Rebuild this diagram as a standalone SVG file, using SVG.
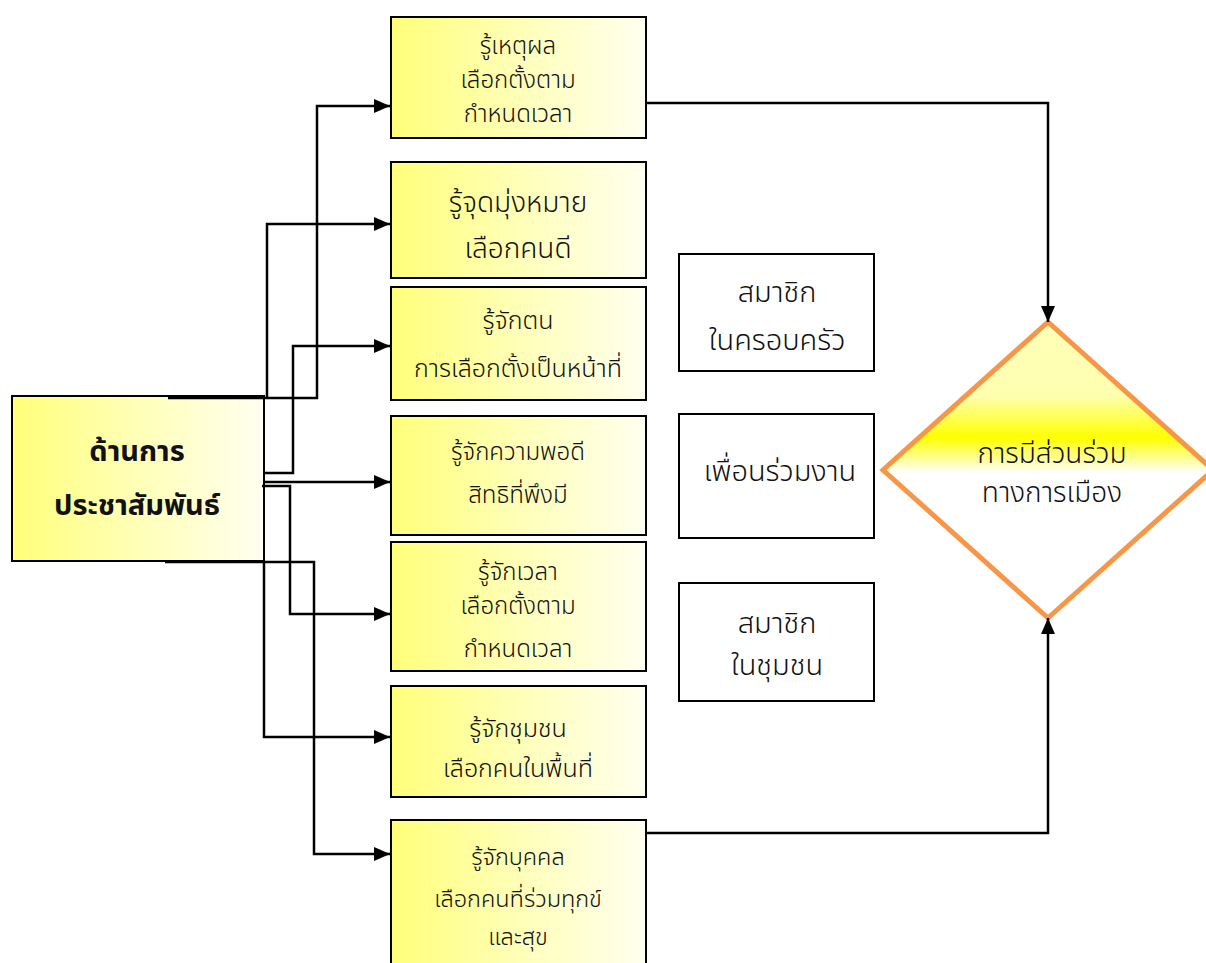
<svg xmlns="http://www.w3.org/2000/svg" width="1206" height="963" viewBox="0 0 1206 963">
<defs>
<linearGradient id="gBox" x1="0" y1="0" x2="1" y2="0">
<stop offset="0" stop-color="#FFFF7A"/>
<stop offset="0.5" stop-color="#FFFFB8"/>
<stop offset="1" stop-color="#FFFFF0"/>
</linearGradient>
<linearGradient id="gDia" x1="0" y1="0" x2="0" y2="1">
<stop offset="0" stop-color="#FFFFB8"/>
<stop offset="0.25" stop-color="#FFFFB0"/>
<stop offset="0.39" stop-color="#FFFF00"/>
<stop offset="0.51" stop-color="#FFFFFF"/>
<stop offset="1" stop-color="#FFFFFF"/>
</linearGradient>
<marker id="arr" viewBox="0 0 16 14" refX="16" refY="7" markerWidth="16" markerHeight="14" markerUnits="userSpaceOnUse" orient="auto">
<path d="M0,0 L16,7 L0,14 Z" fill="#000"/>
</marker>
</defs>
<style>
.box{fill:url(#gBox);stroke:#000;stroke-width:2}
.wbox{fill:#fff;stroke:#000;stroke-width:2}
.dia{fill:url(#gDia);stroke:#F79646;stroke-width:5;stroke-linejoin:miter}
.t{font-family:"Noto Sans Thai","Noto Sans","DejaVu Sans",sans-serif;fill:#111;text-anchor:middle;font-weight:300}
.s23{font-size:23.5px}
.s24{font-size:24px}
.s25{font-size:25px}
.s28{font-size:28px}
.s29{font-size:29px}
.t.b{font-weight:bold}
.ca{fill:none;stroke:#000;stroke-width:2.5;marker-end:url(#arr)}
</style>

<g id="node-main">
<rect class="box" x="12" y="396" width="252" height="165"/>
<text class="t s29 b" x="137" y="461">ด้านการ</text>
<text class="t s29 b" x="137" y="515">ประชาสัมพันธ์</text>
</g>

<g id="node-1">
<rect class="box" x="391" y="17" width="255" height="121"/>
<text class="t s24" x="518" y="54">รู้เหตุผล</text>
<text class="t s24" x="518" y="88">เลือกตั้งตาม</text>
<text class="t s24" x="518" y="122">กำหนดเวลา</text>
</g>

<g id="node-2">
<rect class="box" x="391" y="162" width="255" height="116"/>
<text class="t s28" x="518" y="212">รู้จุดมุ่งหมาย</text>
<text class="t s28" x="518" y="258">เลือกคนดี</text>
</g>

<g id="node-3">
<rect class="box" x="391" y="287" width="255" height="113"/>
<text class="t s25" x="518" y="329">รู้จักตน</text>
<text class="t s25" x="518" y="377">การเลือกตั้งเป็นหน้าที่</text>
</g>

<g id="node-4">
<rect class="box" x="391" y="416" width="255" height="119"/>
<text class="t s24" x="518" y="460">รู้จักความพอดี</text>
<text class="t s24" x="518" y="503">สิทธิที่พึงมี</text>
</g>

<g id="node-5">
<rect class="box" x="391" y="542" width="255" height="129"/>
<text class="t s24" x="518" y="580">รู้จักเวลา</text>
<text class="t s24" x="518" y="614">เลือกตั้งตาม</text>
<text class="t s24" x="518" y="657">กำหนดเวลา</text>
</g>

<g id="node-6">
<rect class="box" x="391" y="686" width="255" height="111"/>
<text class="t s25" x="518" y="737">รู้จักชุมชน</text>
<text class="t s25" x="518" y="777">เลือกคนในพื้นที่</text>
</g>

<g id="node-7">
<rect class="box" x="391" y="820" width="255" height="160"/>
<text class="t s23" x="518" y="865">รู้จักบุคคล</text>
<text class="t s23" x="518" y="907">เลือกคนที่ร่วมทุกข์</text>
<text class="t s23" x="518" y="945">และสุข</text>
</g>

<g id="node-family">
<rect class="wbox" x="679" y="254" width="195" height="117"/>
<text class="t s29" x="777" y="302">สมาชิก</text>
<text class="t s29" x="777" y="350">ในครอบครัว</text>
</g>

<g id="node-coworker">
<rect class="wbox" x="679" y="414" width="195" height="124"/>
<text class="t s29" x="780" y="481">เพื่อนร่วมงาน</text>
</g>

<g id="node-community">
<rect class="wbox" x="679" y="583" width="195" height="118"/>
<text class="t s29" x="777" y="633">สมาชิก</text>
<text class="t s29" x="777" y="675">ในชุมชน</text>
</g>

<g id="node-decision">
<polygon class="dia" points="1048,322 1213,470 1048,618 883,470"/>
<text class="t s28" x="1052" y="463">การมีส่วนร่วม</text>
<text class="t s28" x="1052" y="502">ทางการเมือง</text>
</g>

<g id="connectors">
<path class="ca" d="M168,398 H317 V106 H390"/>
<path class="ca" d="M267,397 V224 H390"/>
<path class="ca" d="M264,473 H293 V346 H390"/>
<path class="ca" d="M264,482 H390"/>
<path class="ca" d="M262,486 H290 V614 H390"/>
<path class="ca" d="M264,561 V737 H390"/>
<path class="ca" d="M165,562 H314 V854 H390"/>
<path class="ca" d="M646,103 H1048 V322"/>
<path class="ca" d="M646,833 H1048 V618"/>
</g>
</svg>
